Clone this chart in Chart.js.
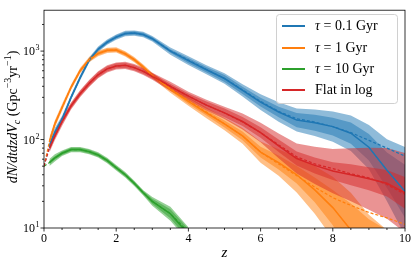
<!DOCTYPE html>
<html>
<head>
<meta charset="utf-8">
<script src="https://cdn.jsdelivr.net/npm/chart.js@4.4.1/dist/chart.umd.min.js"></script>
<style>
  html, body { margin: 0; padding: 0; background: #fff; }
</style>
</head>
<body>
<canvas id="rateChart" width="415" height="265"></canvas>
<script>
// redshift grid
var zs = [0, 0.15, 0.3, 0.5, 0.75, 1, 1.25, 1.5, 1.75, 2, 2.25, 2.5, 2.75, 3, 3.5, 4, 4.5, 5, 5.5, 6, 6.5, 7, 7.5, 8, 8.5, 9, 9.5, 10]

// tau = 0.1 Gyr
var blueMed = [null, 85, 120, 170, 300, 500, 790, 1050, 1260, 1440, 1580, 1600, 1540, 1380, 1000, 780, 615, 490, 360, 265, 205, 166, 155, 140, 118, 82, 45, 26]
var blueFit = [50, 85, 120, 170, 300, 500, 790, 1050, 1260, 1440, 1570, 1600, 1530, 1380, 1010, 790, 620, 490, 365, 270, 208, 172, 158, 140, 120, 98, 80, 65]
var blueIn  = [.03, .03, .03, .02, .02, .02, .02, .02, .02, .02, .02, .02, .02, .02, .02, .03, .03, .04, .04, .05, .06, .08, .09, .10, .12, .15, .20, .30]
var blueOut = [.06, .06, .05, .04, .03, .03, .03, .03, .03, .03, .03, .03, .03, .03, .04, .05, .05, .06, .07, .09, .11, .13, .15, .17, .20, .25, .35, .50]

// tau = 1 Gyr
var orangeMed = [null, 95, 150, 230, 390, 600, 800, 940, 1020, 1030, 930, 800, 660, 530, 370, 270, 200, 150, 110, 72, 55, 40, 27, 17, 9.5, 5, 3, 2]
var orangeFit = [50, 95, 150, 230, 390, 600, 800, 940, 1020, 1030, 930, 800, 660, 530, 375, 275, 205, 150, 110, 72, 53, 39, 29, 22, 18, 15, 13, 11]
var orangeIn  = [.03, .03, .03, .02, .02, .02, .02, .02, .02, .02, .02, .02, .02, .02, .02, .03, .03, .04, .05, .06, .08, .10, .14, .20, .30, .40, .50, .50]
var orangeOut = [.05, .05, .04, .04, .03, .03, .03, .03, .03, .03, .03, .03, .03, .03, .04, .05, .06, .07, .09, .12, .15, .20, .27, .35, .42, .45, .50, .50]

// tau = 10 Gyr
var greenMed = [null, 55, 62, 70, 77, 77, 73, 67, 58, 48, 40, 32, 25, 20, 14.5, 8.5, null, null, null, null, null, null, null, null, null, null, null, null]
var greenFit = [50, 55, 62, 70, 77, 77, 73, 67, 58, 48, 40, 32, 25, 20, 14.5, 9, null, null, null, null, null, null, null, null, null, null, null, null]
var greenIn  = [.02, .02, .02, .02, .02, .02, .02, .02, .02, .02, .02, .02, .02, .03, .05, .06, 0, 0, 0, 0, 0, 0, 0, 0, 0, 0, 0, 0]
var greenOut = [.04, .04, .04, .03, .03, .03, .03, .03, .03, .03, .03, .03, .03, .05, .08, .08, 0, 0, 0, 0, 0, 0, 0, 0, 0, 0, 0, 0]

// flat in log
var redMed = [null, 80, 110, 160, 240, 330, 430, 540, 630, 680, 690, 650, 590, 520, 400, 310, 245, 200, 160, 120, 85, 61, 51, 44, 40, 36, 32, 25]
var redFit = [50, 80, 110, 160, 240, 330, 430, 540, 630, 680, 690, 650, 590, 520, 400, 310, 245, 200, 158, 120, 87, 64, 53, 47, 41, 37, 31, 24]
var redIn  = [.03, .03, .03, .03, .03, .03, .03, .03, .03, .03, .03, .03, .03, .03, .03, .03, .04, .05, .05, .06, .07, .08, .09, .10, .12, .13, .15, .18]
var redOut = [.05, .05, .05, .05, .04, .04, .04, .04, .04, .04, .04, .04, .04, .04, .05, .05, .06, .07, .09, .11, .14, .17, .21, .25, .30, .35, .40, .45]

var seriesLabels = ['τ = 0.1 Gyr', 'τ = 1 Gyr', 'τ = 10 Gyr', 'Flat in log']
var yDecades = [1, 2, 3]
var xTicks = [0, 2, 4, 6, 8, 10]

var series = [
  {label: seriesLabels[0], color: [31, 119, 180], med: blueMed, fit: blueFit, inner: blueIn, outer: blueOut},
  {label: seriesLabels[1], color: [255, 127, 14], med: orangeMed, fit: orangeFit, inner: orangeIn, outer: orangeOut},
  {label: seriesLabels[2], color: [44, 160, 44], med: greenMed, fit: greenFit, inner: greenIn, outer: greenOut},
  {label: seriesLabels[3], color: [214, 39, 40], med: redMed, fit: redFit, inner: redIn, outer: redOut}
]

function rgba(c, a) { return 'rgba(' + c[0] + ',' + c[1] + ',' + c[2] + ',' + a + ')' }

function pts(vals) {
  return zs.map(function (z, i) { return {x: z, y: vals[i]} })
}
function band(vals, w, sign) {
  return zs.map(function (z, i) {
    return {x: z, y: vals[i] == null ? null : vals[i] * Math.pow(10, sign * w[i])}
  })
}

var datasets = []
series.forEach(function (s, k) {
  var ord = 20 - k
  ;[s.outer, s.inner].forEach(function (w) {
    datasets.push({data: band(s.med, w, -1), borderWidth: 0, pointRadius: 0, fill: false, order: ord})
    datasets.push({data: band(s.med, w, 1), borderWidth: 0, pointRadius: 0, fill: '-1',
      backgroundColor: rgba(s.color, 0.5), order: ord})
  })
})
series.forEach(function (s, k) {
  datasets.push({label: s.label, data: pts(s.med), borderColor: rgba(s.color, 1), borderWidth: 1.5,
    pointRadius: 0, fill: false, order: 10 - k})
  datasets.push({data: pts(s.fit), borderColor: rgba(s.color, 1), borderWidth: 1.2, borderDash: [3, 2],
    pointRadius: 0, fill: false, order: 5 - k})
})

var SERIF = '"Liberation Serif", "DejaVu Serif", serif'

var tickMarks = {
  id: 'tickMarks',
  afterDraw: function (chart) {
    var ctx = chart.ctx, a = chart.chartArea, x = chart.scales.x, y = chart.scales.y
    ctx.save()
    ctx.strokeStyle = '#000'
    ctx.lineWidth = 0.8
    ctx.beginPath()
    for (var v = 0; v <= 10; v += 0.5) {
      var px = x.getPixelForValue(v)
      var len = (v % 2 === 0) ? 3.5 : 2
      ctx.moveTo(px, a.bottom); ctx.lineTo(px, a.bottom + len)
    }
    for (var d = 1; d <= 3; d++) {
      for (var m = 1; m <= 9; m++) {
        var val = m * Math.pow(10, d)
        if (val > y.max) break
        var py = y.getPixelForValue(val)
        var l = m === 1 ? 3.5 : 2
        ctx.moveTo(a.left - l, py); ctx.lineTo(a.left, py)
      }
    }
    ctx.stroke()
    ctx.strokeRect(a.left, a.top, a.right - a.left, a.bottom - a.top)

    ctx.fillStyle = '#000'
    ctx.textBaseline = 'alphabetic'

    // x tick labels
    ctx.font = '12px ' + SERIF
    ctx.textAlign = 'center'
    xTicks.forEach(function (t) { ctx.fillText(String(t), x.getPixelForValue(t), 242) })

    // y tick labels 10^n
    yDecades.forEach(function (e) {
      var py = y.getPixelForValue(Math.pow(10, e))
      ctx.font = '12px ' + SERIF
      ctx.textAlign = 'right'
      ctx.fillText('10', 35, py + 4)
      ctx.font = '8px ' + SERIF
      ctx.textAlign = 'left'
      ctx.fillText(String(e), 35.5, py - 1)
    })

    // axis titles
    ctx.font = 'italic 15px ' + SERIF
    ctx.textAlign = 'center'
    ctx.fillText('z', (a.left + a.right) / 2, 257)

    var parts = [
      {t: 'dN/dtdzdV', f: 'italic 14px ', dy: 0},
      {t: 'c', f: 'italic 10px ', dy: 3},
      {t: ' (Gpc', f: '14px ', dy: 0},
      {t: '−3', f: '10px ', dy: -6},
      {t: 'yr', f: '14px ', dy: 0},
      {t: '−1', f: '10px ', dy: -6},
      {t: ')', f: '14px ', dy: 0}
    ]
    var total = 0
    parts.forEach(function (p) { ctx.font = p.f + SERIF; p.w = ctx.measureText(p.t).width; total += p.w })
    ctx.translate(17, 117)
    ctx.rotate(-Math.PI / 2)
    ctx.textAlign = 'left'
    var cx = -total / 2
    parts.forEach(function (p) {
      ctx.font = p.f + SERIF
      ctx.fillText(p.t, cx, p.dy)
      cx += p.w
    })
    ctx.restore()
  }
}

var boxLegend = {
  id: 'boxLegend',
  afterDraw: function (chart) {
    var ctx = chart.ctx
    ctx.save()
    ctx.beginPath()
    ctx.roundRect(276.5, 14.5, 121, 89, 3)
    ctx.fillStyle = 'rgba(255,255,255,0.8)'
    ctx.fill()
    ctx.strokeStyle = '#d0d0d0'
    ctx.lineWidth = 1
    ctx.stroke()
    var rows = [26, 48, 69, 90]
    ctx.textBaseline = 'middle'
    ctx.textAlign = 'left'
    series.forEach(function (s, i) {
      ctx.strokeStyle = rgba(s.color, 1)
      ctx.lineWidth = 2
      ctx.beginPath()
      ctx.moveTo(282, rows[i]); ctx.lineTo(305, rows[i])
      ctx.stroke()
      ctx.fillStyle = '#000'
      var tx = 315
      var txt = s.label
      if (txt.charAt(0) === 'τ') {
        ctx.font = 'italic 14px ' + SERIF
        ctx.fillText('τ', tx, rows[i])
        tx += ctx.measureText('τ').width
        txt = txt.slice(1)
      }
      ctx.font = '14px ' + SERIF
      ctx.fillText(txt, tx, rows[i])
    })
    ctx.restore()
  }
}

var ctx = document.getElementById('rateChart')

var rateChart = new Chart(ctx, {
  type: 'line',
  data: {datasets: datasets},
  options: {
    responsive: false,
    animation: false,
    layout: {padding: {top: 7, right: 10, left: 0, bottom: 0}},
    plugins: {legend: {display: false}, tooltip: {enabled: false}},
    scales: {
      x: {
        type: 'linear', min: 0, max: 10,
        grid: {display: false}, border: {display: false},
        ticks: {stepSize: 2, callback: function () { return '' }},
        afterFit: function (s) { s.height = 37 }
      },
      y: {
        type: 'logarithmic', min: 10, max: 2900,
        grid: {display: false}, border: {display: false},
        ticks: {autoSkip: false, callback: function () { return '' }},
        afterFit: function (s) { s.width = 44 }
      }
    }
  },
  plugins: [tickMarks, boxLegend]
})
</script>
</body>
</html>
